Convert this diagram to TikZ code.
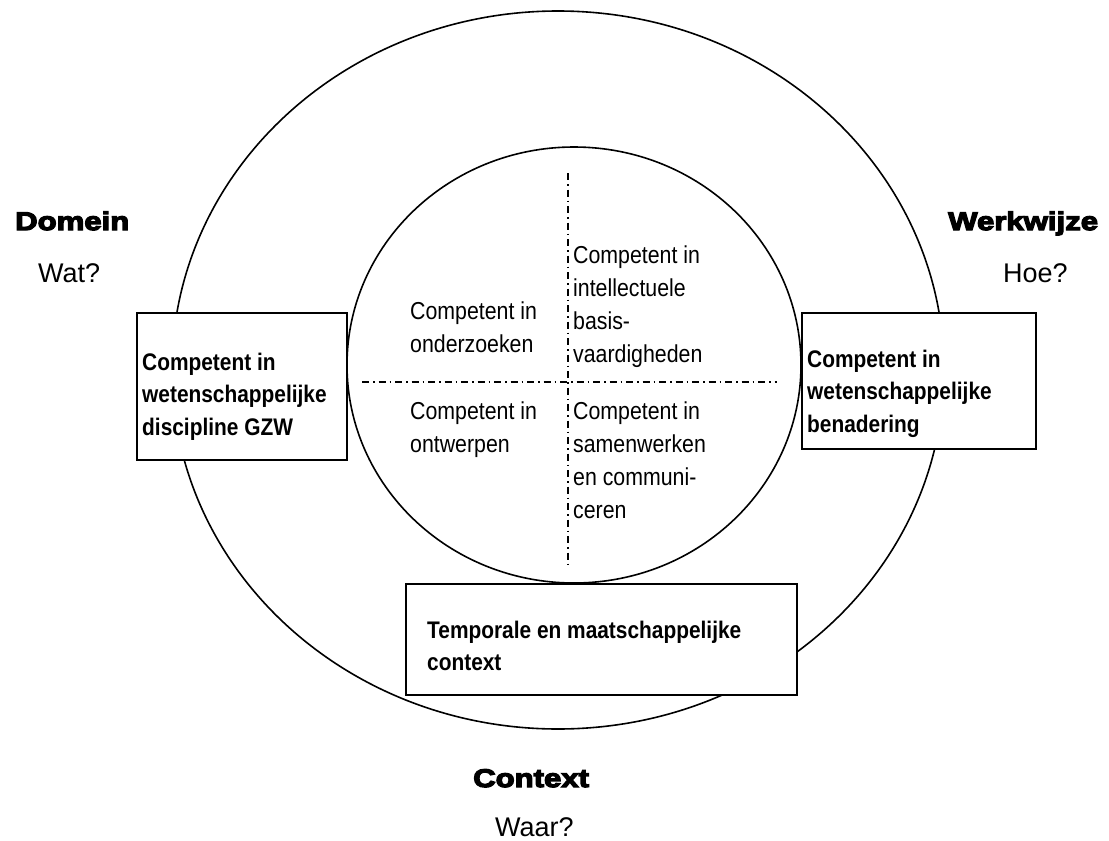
\documentclass[tikz,border=0pt]{standalone}
\usepackage{fontspec}
\setmainfont{Liberation Sans}
\newfontfamily\narrow[FakeStretch=0.87]{Liberation Sans}
\newfontfamily\heavy[FakeBold=5,FakeStretch=1.22]{Liberation Sans Bold}
\usetikzlibrary{shapes.geometric}
\begin{document}
\begin{tikzpicture}[x=1pt,y=-1pt,
  ring/.style={draw, ellipse, line width=1.6pt, inner sep=0pt},
  box/.style={draw, fill=white, line width=1.6pt, inner sep=0pt},
  boxtext/.style={anchor=north west, inner sep=0pt, align=left, font=\narrow\bfseries\fontsize{24}{32.5}\selectfont},
  celltext/.style={anchor=north west, inner sep=0pt, align=left, font=\narrow\fontsize{24.5}{33}\selectfont},
  title/.style={anchor=base west, inner sep=0pt, font=\heavy\fontsize{25.5}{30}\selectfont},
  question/.style={anchor=base west, inner sep=0pt, font=\fontsize{27}{32}\selectfont},
  divider/.style={line width=1.3pt, dash pattern=on 7pt off 4pt on 1.5pt off 4pt}]
\useasboundingbox (0,0) rectangle (1109,841);
\node[ring, minimum width=772pt, minimum height=718pt] (outer) at (558,370) {};
\node[ring, minimum width=454pt, minimum height=436pt] (inner) at (574,365) {};
\coordinate (hl) at (362,382);
\coordinate (hr) at (777,382);
\coordinate (vt) at (568,173);
\coordinate (vb) at (568,568);
\draw[divider] (hl) -- (hr);
\draw[divider] (vt) -- (vb);
\node[box, minimum width=210pt, minimum height=147pt] (bleft) at (242,386.5) {};
\node[box, minimum width=234pt, minimum height=136pt] (bright) at (919,381) {};
\node[box, minimum width=391pt, minimum height=111pt] (bbottom) at (601.5,639.5) {};
\node[boxtext] (tleft) at (142,347) {\rule{0pt}{23pt}Competent in\\wetenschappelijke\\discipline GZW};
\node[boxtext] (tright) at (807,344) {\rule{0pt}{23pt}Competent in\\wetenschappelijke\\benadering};
\node[boxtext] (tbottom) at (427,615) {\rule{0pt}{23pt}Temporale en maatschappelijke\\context};
\node[celltext] (c1) at (410,296) {\rule{0pt}{23pt}Competent in\\onderzoeken};
\node[celltext] (c2) at (573,240) {\rule{0pt}{23pt}Competent in\\intellectuele\\basis-\\vaardigheden};
\node[celltext] (c3) at (410,396) {\rule{0pt}{23pt}Competent in\\ontwerpen};
\node[celltext] (c4) at (573,396) {\rule{0pt}{23pt}Competent in\\samenwerken\\en communi-\\ceren};
\node[title] (domein) at (15,230) {Domein};
\node[title] (werkwijze) at (948,230) {Werkwijze};
\node[title] (context) at (473,787) {Context};
\node[question] (wat) at (38,282) {Wat?};
\node[question] (hoe) at (1003,282) {Hoe?};
\node[question] (waar) at (495,836) {Waar?};
\end{tikzpicture}
\end{document}
